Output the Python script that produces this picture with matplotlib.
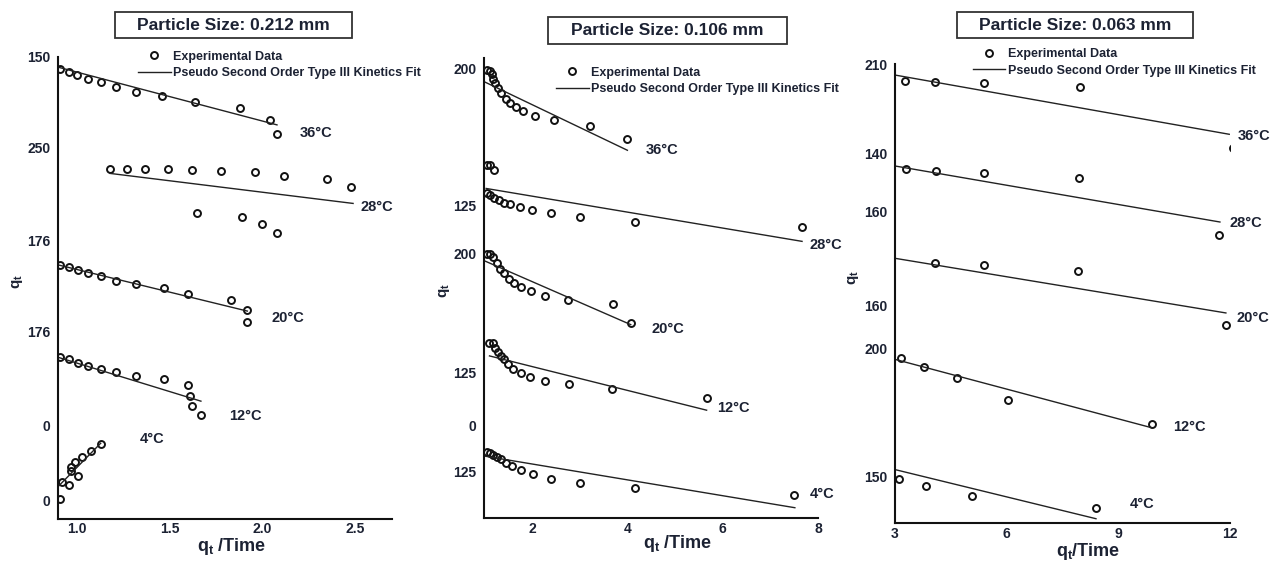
import matplotlib.pyplot as plt
from matplotlib.patches import Rectangle

plt.rcParams['font.family'] = ['Liberation Sans', 'DejaVu Sans']
plt.rcParams['font.weight'] = 'bold'
plt.rcParams['mathtext.fontset'] = 'custom'
plt.rcParams['mathtext.rm'] = 'Liberation Sans:bold'
plt.rcParams['mathtext.it'] = 'Liberation Sans:bold'
plt.rcParams['mathtext.bf'] = 'Liberation Sans:bold'

INK = '#1c2233'

temps = ['36°C', '28°C', '20°C', '12°C', '4°C']
sizes = ['0.212', '0.106', '0.063']

#---------Particle size 0.212 mm--------------#
p212_exp_x = [
    [0.91, 0.96, 1.00, 1.06, 1.13, 1.21, 1.32, 1.46, 1.64, 1.88, 2.04, 2.08],
    [1.18, 1.27, 1.37, 1.49, 1.62, 1.78, 1.96, 2.12, 2.35, 2.48, 1.65, 1.89, 2.00, 2.08],
    [0.91, 0.96, 1.01, 1.06, 1.13, 1.21, 1.32, 1.47, 1.60, 1.83, 1.92, 1.92],
    [0.91, 0.96, 1.01, 1.06, 1.13, 1.21, 1.32, 1.47, 1.60, 1.61, 1.62, 1.67],
    [0.91, 0.92, 0.96, 0.97, 0.97, 0.99, 1.01, 1.03, 1.08, 1.13],
]
p212_exp_y = [
    [97.3, 96.8, 96.0, 95.2, 94.5, 93.4, 92.5, 91.6, 90.3, 88.9, 86.4, 83.3],
    [75.8, 75.8, 75.8, 75.8, 75.5, 75.3, 75.0, 74.2, 73.5, 71.9, 66.2, 65.4, 63.8, 62.0],
    [55.0, 54.5, 53.8, 53.2, 52.5, 51.6, 50.9, 50.1, 48.8, 47.5, 45.3, 42.6],
    [35.0, 34.6, 33.8, 33.2, 32.5, 31.8, 31.0, 30.2, 28.9, 26.7, 24.5, 22.4],
    [4.3, 7.9, 7.4, 10.3, 11.3, 12.3, 9.2, 13.4, 14.7, 16.2],
]
p212_fit_x = [[0.90, 2.08], [1.18, 2.49], [0.90, 1.92], [0.90, 1.67], [0.90, 1.13]]
p212_fit_y = [[97.8, 85.3], [74.8, 68.3], [55.0, 45.0], [35.0, 25.5], [7.0, 16.4]]
p212_xticks = [1.0, 1.5, 2.0, 2.5]
p212_ytick_pos = [100, 80.3, 60.2, 40.5, 20.3, 4.1]
p212_ytick_lab = ['150', '250', '176', '176', '0', '0']

#---------Particle size 0.106 mm--------------#
p106_exp_x = [
    [1.06, 1.12, 1.16, 1.19, 1.23, 1.29, 1.36, 1.45, 1.54, 1.66, 1.82, 2.06, 2.46, 3.21, 4.00],
    [1.05, 1.12, 1.21, 1.05, 1.12, 1.21, 1.31, 1.41, 1.55, 1.75, 2.01, 2.39, 3.00, 4.16, 7.66],
    [1.05, 1.12, 1.19, 1.26, 1.33, 1.41, 1.52, 1.63, 1.77, 1.98, 2.27, 2.75, 3.70, 4.07],
    [1.11, 1.18, 1.22, 1.28, 1.35, 1.41, 1.50, 1.61, 1.76, 1.96, 2.27, 2.77, 3.67, 5.66],
    [1.05, 1.12, 1.19, 1.26, 1.35, 1.45, 1.58, 1.77, 2.03, 2.39, 3.00, 4.16, 7.49],
]
p106_exp_y = [
    [97.5, 97.2, 96.5, 95.6, 94.7, 93.5, 92.5, 91.2, 90.2, 89.4, 88.5, 87.5, 86.5, 85.2, 82.4],
    [76.7, 76.7, 75.8, 70.7, 70.2, 69.7, 69.1, 68.5, 68.3, 67.7, 67.0, 66.3, 65.4, 64.4, 63.4],
    [57.4, 57.4, 56.7, 55.4, 54.3, 53.3, 52.1, 51.2, 50.3, 49.4, 48.4, 47.4, 46.5, 42.4],
    [38.1, 38.0, 37.1, 36.2, 35.3, 34.6, 33.6, 32.5, 31.6, 30.7, 29.8, 29.1, 28.0, 26.2],
    [14.4, 14.1, 13.7, 13.3, 12.8, 12.1, 11.3, 10.4, 9.6, 8.5, 7.6, 6.5, 5.1],
]
p106_fit_x = [[1.02, 4.00], [1.04, 7.66], [1.02, 4.07], [1.11, 5.66], [1.02, 7.51]]
p106_fit_y = [[94.8, 80.0], [71.7, 60.2], [55.9, 42.1], [35.3, 23.5], [13.5, 2.3]]
p106_xticks = [2, 4, 6, 8]
p106_ytick_pos = [97.8, 67.9, 57.5, 31.7, 20.2, 10.2]
p106_ytick_lab = ['200', '125', '200', '125', '0', '125']

#---------Particle size 0.063 mm--------------#
p063_exp_x = [
    [3.27, 4.08, 5.40, 7.97, 12.08],
    [3.30, 4.10, 5.40, 7.94, 11.70],
    [4.08, 5.40, 7.91, 11.89],
    [3.16, 3.77, 4.67, 6.03, 9.90],
    [3.12, 3.83, 5.08, 8.39],
]
p063_exp_y = [
    [96.4, 96.1, 95.8, 94.9, 81.7],
    [77.1, 76.8, 76.3, 75.2, 62.7],
    [56.6, 56.2, 55.0, 43.1],
    [35.9, 34.1, 31.7, 26.9, 21.7],
    [9.7, 8.1, 5.9, 3.3],
]
p063_fit_x = [[3.0, 11.98], [3.0, 11.73], [3.0, 11.89], [3.0, 9.90], [3.0, 8.40]]
p063_fit_y = [[97.6, 84.7], [77.8, 65.6], [57.7, 45.8], [35.7, 20.8], [11.7, 1.0]]
p063_xticks = [3, 6, 9, 12]
p063_ytick_pos = [100, 80.6, 67.8, 47.5, 38.1, 10.1]
p063_ytick_lab = ['210', '140', '160', '160', '200', '150']

# Layout: axes rectangles, temperature tag anchors, legend / label spots
ax_rects = [[0.0457, 0.0782, 0.263, 0.8206],
            [0.3813, 0.0794, 0.263, 0.8171],
            [0.7047, 0.0705, 0.2638, 0.8158]]
xlims = [(0.9, 2.7), (1.0, 8.0), (3.0, 12.0)]
tag_xy = [
    [(2.20, 83.5), (2.53, 67.5), (2.05, 43.4), (1.82, 22.3), (1.34, 17.3)],
    [(4.39, 80.0), (7.81, 59.5), (4.51, 41.2), (5.88, 24.0), (7.82, 5.2)],
    [(12.22, 84.4), (12.0, 65.3), (12.18, 44.6), (10.48, 21.0), (9.30, 4.3)],
]
legend_anchor = [(0.24, 1.014), (0.215, 0.982), (0.232, 1.034)]
xlabel_xy = [(0.52, -0.06), (0.58, -0.054), (0.576, -0.062)]
ylabel_xy = [(-0.12, 0.513), (-0.118, 0.496), (-0.125, 0.534)]
title_box = [(115, 12, 237, 26), (548, 17, 239, 27), (957, 12, 236, 26)]
xlabel_txt = [r'$\mathbf{q_t}$ /Time', r'$\mathbf{q_t}$ /Time', r'$\mathbf{q_t}$/Time']

panels = [
    (p212_exp_x, p212_exp_y, p212_fit_x, p212_fit_y, p212_xticks, p212_ytick_pos, p212_ytick_lab),
    (p106_exp_x, p106_exp_y, p106_fit_x, p106_fit_y, p106_xticks, p106_ytick_pos, p106_ytick_lab),
    (p063_exp_x, p063_exp_y, p063_fit_x, p063_fit_y, p063_xticks, p063_ytick_pos, p063_ytick_lab),
]

W, H = 1270, 563
fig = plt.figure(figsize=(W / 100, H / 100), dpi=100)

for i, (ex, ey, fx, fy, xt, yp, yl) in enumerate(panels):
    ax = fig.add_axes(ax_rects[i])

    for k in range(len(temps)):
        ax.plot(ex[k], ey[k], 'o', ms=5, mfc='none', mec='#111111', mew=1.4,
                label='Experimental Data' if k == 0 else None)
        ax.plot(fx[k], fy[k], '-', color='#222222', lw=1.0,
                label='Pseudo Second Order Type III Kinetics Fit' if k == 0 else None)
        tx, ty = tag_xy[i][k]
        ax.text(tx, ty, temps[k], ha='left', va='center', fontsize=10.5,
                fontweight='bold', color=INK, clip_on=False)

    ax.set_xlim(*xlims[i])
    ax.set_ylim(0, 100)
    ax.set_xticks(xt)
    ax.set_xticklabels([f'{v:g}' if i else f'{v:.1f}' for v in xt])
    ax.set_yticks(yp)
    ax.set_yticklabels(yl)
    ax.tick_params(length=0, labelsize=10, labelcolor=INK)
    ax.tick_params(axis='y', pad=5.5)
    ax.tick_params(axis='x', pad=2.5)
    for lab in ax.get_xticklabels() + ax.get_yticklabels():
        lab.set_fontweight('bold')

    for side in ['top', 'right']:
        ax.spines[side].set_visible(False)
    for side in ['left', 'bottom']:
        ax.spines[side].set_linewidth(1.5)
        ax.spines[side].set_color('#111111')

    ax.set_xlabel(xlabel_txt[i], fontsize=13, fontweight='bold', color=INK)
    ax.xaxis.set_label_coords(*xlabel_xy[i])
    ax.xaxis.label.set_verticalalignment('center')
    ax.set_ylabel(r'$\mathbf{q_t}$', fontsize=11, color=INK)
    ax.yaxis.set_label_coords(*ylabel_xy[i])
    ax.yaxis.label.set_verticalalignment('center')

    leg = ax.legend(loc='upper left', bbox_to_anchor=legend_anchor[i], frameon=False,
                    fontsize=9, handlelength=2.6, handletextpad=0.2,
                    labelspacing=0.35, borderpad=0, borderaxespad=0)
    for t in leg.get_texts():
        t.set_fontweight('bold')
        t.set_color(INK)

    # boxed panel title
    bx, by, bw, bh = title_box[i]
    fig.patches.append(Rectangle((bx / W, 1 - (by + bh) / H), bw / W, bh / H,
                                 transform=fig.transFigure, fill=False,
                                 edgecolor='#333333', lw=1.3))
    fig.text((bx + bw / 2) / W, 1 - (by + bh / 2) / H, f'Particle Size: {sizes[i]} mm',
             ha='center', va='center', fontsize=12.5, fontweight='bold', color=INK)

fig.savefig('out.png', dpi=100)
